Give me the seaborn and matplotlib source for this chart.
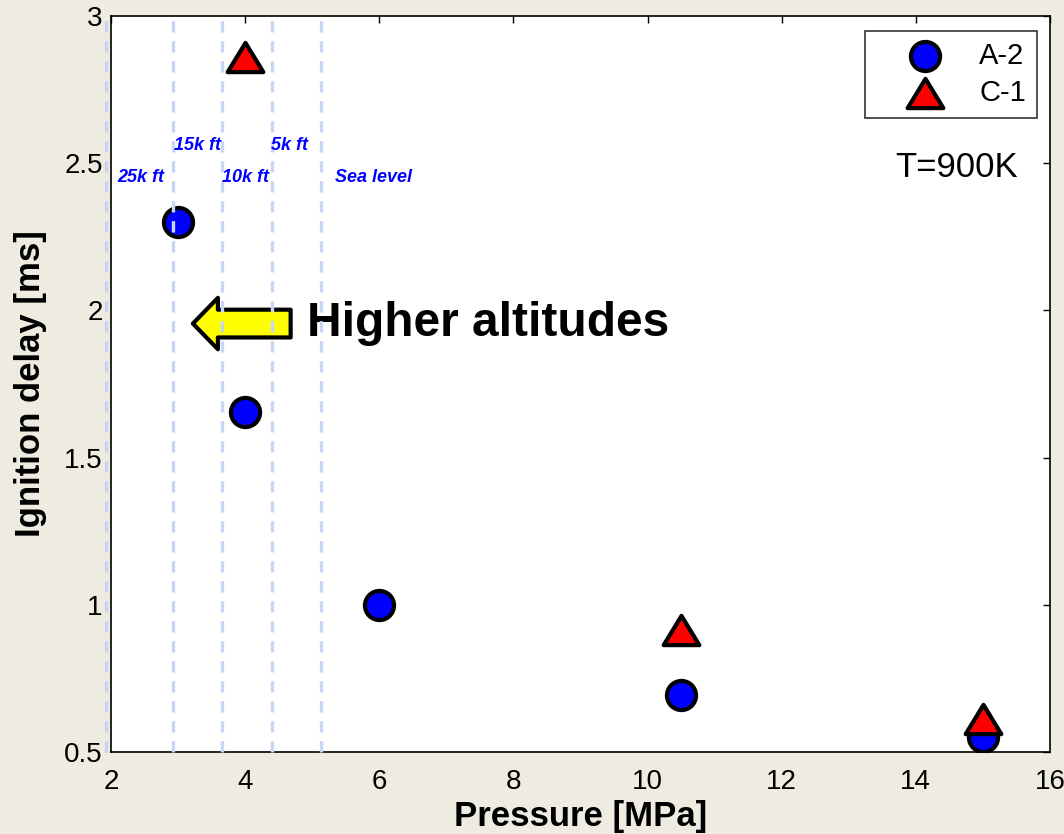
import pandas as pd
import seaborn as sns
import matplotlib.pyplot as plt
from matplotlib.patches import FancyArrowPatch
from matplotlib.path import Path

# data
a2_pressure = [3, 4, 6, 10.5, 15]
a2_delay = [2.30, 1.655, 1.00, 0.695, 0.552]
c1_pressure = [4, 10.5, 15]
c1_delay = [2.86, 0.915, 0.612]

altitude_pressure = [1.92, 2.93, 3.65, 4.40, 5.13]
altitude_labels = ["25k ft", "15k ft", "10k ft", "5k ft", "Sea level"]

sns.set_style("white")
plt.rcParams['font.family'] = ['Liberation Sans', 'DejaVu Sans']
plt.rcParams.update({'text.color': 'black', 'axes.labelcolor': 'black',
                     'xtick.color': 'black', 'ytick.color': 'black'})

fig = plt.figure(figsize=(10.64, 8.34), dpi=100, facecolor='#EEECE1')
ax = fig.add_axes([0.1043, 0.0983, 0.8825, 0.8827])
ax.set_facecolor('white')

# altitude guide lines (drawn over the markers, like the original)
for p in altitude_pressure:
    ax.axvline(p, color='#C8D6F5', lw=2.4, dashes=(3.4, 2.6), zorder=6, clip_on=False)

label_x = [2.09, 2.94, 3.65, 4.39, 5.34]
label_y = [2.45, 2.56, 2.45, 2.56, 2.45]
for x, y, t in zip(label_x, label_y, altitude_labels):
    ax.text(x, y, t, color='#0000FF', fontsize=13, fontweight='bold',
            fontstyle='italic', va='center', ha='left', zorder=7)

a2 = pd.DataFrame({"Pressure": a2_pressure, "Delay": a2_delay})
c1 = pd.DataFrame({"Pressure": c1_pressure, "Delay": c1_delay})

# slightly flattened triangle, closed so the black edge goes all round
tri = Path([(-1, -0.82), (1, -0.82), (0, 0.82), (-1, -0.82)],
           [Path.MOVETO, Path.LINETO, Path.LINETO, Path.CLOSEPOLY])

sns.scatterplot(data=a2, x="Pressure", y="Delay", ax=ax, marker='o', s=440,
                color='#0000FF', edgecolor='black', linewidth=3, label='A-2', zorder=3)
sns.scatterplot(data=c1, x="Pressure", y="Delay", ax=ax, marker=tri, s=660,
                color='#FF0000', edgecolor='black', linewidth=3, label='C-1', zorder=4)

ax.set_xlim(2, 16)
ax.set_ylim(0.5, 3)
ax.set_xticks([2, 4, 6, 8, 10, 12, 14, 16])
ax.set_yticks([0.5, 1, 1.5, 2, 2.5, 3])
ax.set_yticklabels(['0.5', '1', '1.5', '2', '2.5', '3'])
ax.tick_params(direction='in', length=5, width=1, top=True, right=True,
               labelsize=20)
ax.tick_params(axis='x', pad=12)
ax.tick_params(axis='y', pad=6)
for s in ax.spines.values():
    s.set_color('black')
    s.set_linewidth(1.2)

ax.set_xlabel('Pressure [MPa]', fontsize=25, fontweight='bold', labelpad=4)
ax.set_ylabel('Ignition delay [ms]', fontsize=25, fontweight='bold', labelpad=12)

# arrow and annotations
arrow = FancyArrowPatch((4.72, 1.955), (3.18, 1.955),
                        arrowstyle='simple,head_length=1.8,head_width=3.7,tail_width=2.0',
                        mutation_scale=10, fc='#FFFF00', ec='black', lw=3, zorder=5)
ax.add_patch(arrow)
ax.text(4.93, 1.955, 'Higher altitudes', fontsize=34.5, fontweight='bold',
        va='center', ha='left')
ax.text(15.52, 2.485, 'T=900K', fontsize=25, va='center', ha='right')

leg = ax.legend(loc='upper right', bbox_to_anchor=(1.002, 0.9995), fontsize=21,
                frameon=True, fancybox=False, edgecolor='black', markerscale=1.0,
                handletextpad=0.15, borderpad=0.38, labelspacing=0.3,
                handlelength=3.4)
leg.get_frame().set_linewidth(1.2)

fig.savefig('out.png', dpi=100, facecolor=fig.get_facecolor())
